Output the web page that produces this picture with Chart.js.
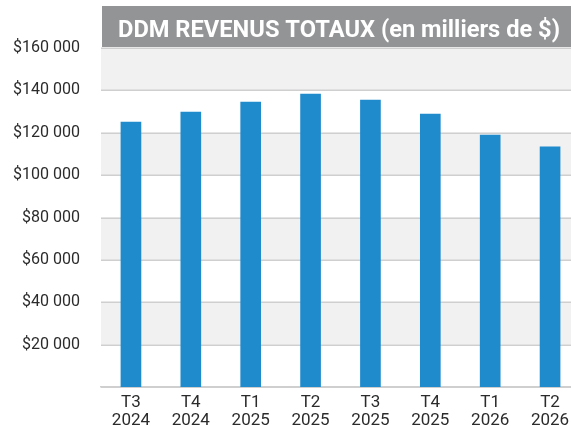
<!DOCTYPE html>
<html>
<head>
<meta charset="utf-8">
<script src="https://cdn.jsdelivr.net/npm/chart.js@4"></script>
<style>
  html, body { margin: 0; padding: 0; background: #fff; overflow: hidden; }
  #wrap { width: 580px; height: 426px; }
</style>
</head>
<body>
<div id="wrap"><canvas id="revChart" width="580" height="426"></canvas></div>
<script>
const titleText = "DDM REVENUS TOTAUX (en milliers de $)";
const quarters = ["T3", "T4", "T1", "T2", "T3", "T4", "T1", "T2"];
const years = ["2024", "2024", "2025", "2025", "2025", "2025", "2026", "2026"];
const revenues = [125000, 129800, 134500, 138200, 135400, 128800, 118900, 113300];
const yTicks = [0, 20000, 40000, 60000, 80000, 100000, 120000, 140000, 160000];

const labels = quarters.map((q, i) => [q, years[i]]);

function fmtMoney(v) {
  return "$" + String(v).replace(/\B(?=(\d{3})+(?!\d))/g, " ");
}

// grey stripes every other band, starting from the top one
const bandPlugin = {
  id: "bands",
  beforeDatasetsDraw(chart) {
    const { ctx, chartArea, scales } = chart;
    const y = scales.y;
    ctx.save();
    ctx.fillStyle = "#f0f1f0";
    for (let i = yTicks.length - 1; i > 0; i -= 2) {
      const top = y.getPixelForValue(yTicks[i]);
      const bot = y.getPixelForValue(yTicks[i - 1]);
      ctx.fillRect(chartArea.left, top, chartArea.right - chartArea.left, bot - top);
    }
    ctx.restore();
  }
};

// grid lines drawn on top of the stripes
const gridOverPlugin = {
  id: "gridOver",
  beforeDatasetsDraw(chart) {
    const { ctx, chartArea, scales } = chart;
    const y = scales.y;
    ctx.save();
    ctx.strokeStyle = "#cfcfcf";
    ctx.lineWidth = 1.5;
    yTicks.forEach(v => {
      const py = Math.round(y.getPixelForValue(v)) + 0.25;
      ctx.beginPath();
      ctx.moveTo(chartArea.left, py);
      ctx.lineTo(chartArea.right, py);
      ctx.stroke();
    });
    ctx.restore();
  }
};

const bannerPlugin = {
  id: "banner",
  afterDraw(chart) {
    const { ctx } = chart;
    const left = 102, top = 6, bottom = 47;
    ctx.save();
    ctx.fillStyle = "#939496";
    ctx.fillRect(left, top, chart.width - left, bottom - top);
    ctx.font = "bold 24px Roboto";
    ctx.fillStyle = "#ffffff";
    ctx.textBaseline = "alphabetic";
    const w = ctx.measureText(titleText).width;
    const sx = 442 / w;
    ctx.translate(118, 37);
    ctx.scale(sx, 1);
    ctx.fillText(titleText, 0, 0);
    ctx.restore();
  }
};

new Chart(document.getElementById("revChart"), {
  type: "bar",
  data: {
    labels: labels,
    datasets: [{
      data: revenues,
      backgroundColor: "#1f8bcd",
      barThickness: 20
    }]
  },
  plugins: [bandPlugin, gridOverPlugin, bannerPlugin],
  options: {
    responsive: false,
    animation: false,
    layout: { padding: { top: 48, right: 0, bottom: 0, left: 0 } },
    plugins: {
      legend: { display: false },
      tooltip: { enabled: false }
    },
    scales: {
      x: {
        grid: { display: false },
        border: { display: true, color: "#cfcfcf", width: 1.5 },
        ticks: {
          color: "#2b2b2b",
          font: { family: "Roboto", size: 17, lineHeight: 1.05 },
          padding: -1,
          maxRotation: 0,
          autoSkip: false
        },
        afterFit(scale) { scale.height = 39; }
      },
      y: {
        min: 0,
        max: 160000,
        grid: { display: false },
        border: { display: false },
        ticks: {
          stepSize: 20000,
          color: "#2b2b2b",
          font: { family: "Roboto", size: 16 },
          padding: 13,
          callback: v => (v === 0 ? "" : fmtMoney(v))
        },
        afterFit(scale) { scale.width = 101; }
      }
    }
  }
});
</script>
</body>
</html>
